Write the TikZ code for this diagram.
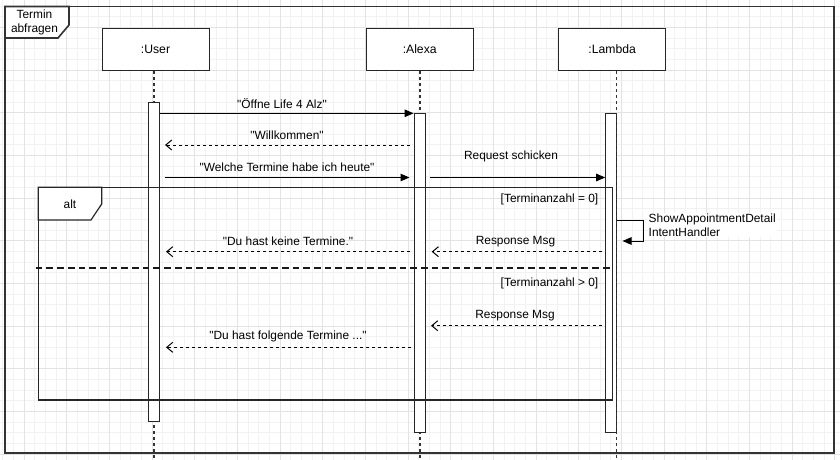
\documentclass[tikz,border=0pt]{standalone}
\usepackage{fontspec}
\setmainfont{Liberation Sans}[Ligatures=TeXOff]
\usetikzlibrary{arrows.meta,calc}
\tikzset{
  minorgrid/.style={draw=black!5,line width=0.8pt},
  majorgrid/.style={draw=black!11,line width=0.8pt},
  lbl/.style={font=\fontsize{11.9}{13.5}\selectfont,inner sep=0pt},
  head/.style={draw=black!85,fill=white,line width=1pt,minimum width=107pt,minimum height=42.4pt,inner sep=0pt,font=\fontsize{12.2}{14}\selectfont},
  actbar/.style={draw=black!85,fill=white,line width=1pt,minimum width=11pt,inner sep=0pt},
  lifeline/.style={draw=black!80,line width=1.1pt,dash pattern=on 3pt off 3pt},
  sync/.style={draw=black,line width=1pt,-{Triangle[length=9pt,width=7.5pt]}},
  reply/.style={draw=black,line width=1pt,dash pattern=on 3pt off 3pt,-{Straight Barb[length=6pt,width=10pt]}},
  framebox/.style={draw=black!80,line width=1.6pt},
  altbox/.style={draw=black!85,line width=1.2pt},
}
\begin{document}
\begin{tikzpicture}[x=1pt,y=-1pt]
\useasboundingbox (0,0) rectangle (840,460);
\fill[white] (0,0) rectangle (840,460);
% grid
\foreach \k in {0,...,78}{\pgfmathsetmacro\xx{2.667+10.667*\k}\draw[minorgrid] (\xx,0) -- (\xx,460);}
\foreach \k in {0,...,42}{\pgfmathsetmacro\yy{6+10.667*\k}\draw[minorgrid] (0,\yy) -- (840,\yy);}
\foreach \k in {2,6,...,78}{\pgfmathsetmacro\xx{2.667+10.667*\k}\draw[majorgrid] (\xx,0) -- (\xx,460);}
\foreach \k in {2,6,...,42}{\pgfmathsetmacro\yy{6+10.667*\k}\draw[majorgrid] (0,\yy) -- (840,\yy);}
% outer frame
\draw[framebox] (5,6.5) rectangle (834,452.7);
\draw[framebox,fill=white] (5,6.5) -- (69,6.5) -- (69,25) -- (58,38) -- (5,38) -- cycle;
\node[lbl,align=center] (title) at (34.5,22.5) {Termin\\abfragen};
% lifeline heads
\node[head] (user) at (155.5,49.5) {:User};
\node[head] (alexa) at (419.7,49.5) {:Alexa};
\node[head] (lambda) at (612.2,49.5) {:Lambda};
\coordinate (uend) at (154,460);
\coordinate (aend) at (420,460);
\coordinate (lend) at (616.7,460);
\draw[lifeline] (user.south -| uend) -- (uend);
\draw[lifeline] (alexa.south -| aend) -- (aend);
\draw[lifeline] (616.7,71) -- (lend);
% activation bars
\node[actbar,minimum height=319pt] (ubar) at (154,262.2) {};
\node[actbar,minimum height=319pt] (abar) at (419.6,272.8) {};
\node[actbar,minimum height=319pt] (lbar) at (611.2,272.8) {};
\draw[draw=black!80,line width=1.1pt,dash pattern=on 3pt off 3pt] (616.7,113.3) -- (616.7,432.3);
% alt frame
\draw[altbox] (38.3,187.3) rectangle (612.7,400);
\draw[altbox,fill=white] (38.3,187.3) -- (101.7,187.3) -- (101.7,204) -- (91,220) -- (38.3,220) -- cycle;
\node[lbl] (alt) at (70,204.5) {alt};
\draw[draw=black!90,line width=2pt,dash pattern=on 6.7pt off 4pt] (35.7,268.3) -- (612.7,268.3);
\node[lbl,anchor=east] (g1) at (598.5,199) {[Terminanzahl = 0]};
\node[lbl,anchor=east] (g2) at (598.5,283.5) {[Terminanzahl > 0]};
% messages
\coordinate (m1) at (0,113.3);
\draw[sync] (ubar.east |- m1) -- (abar.west |- m1);
\node[lbl] (t1) at (282,104) {"Öffne Life 4 Alz"};
\draw[reply] (409.5,145) -- (165,145);
\node[lbl] (t2) at (287,135) {"Willkommen"};
\draw[sync] (165,177.5) -- (409.5,177.5);
\node[lbl] (t3) at (287,167.3) {"Welche Termine habe ich heute"};
\draw[sync] (430,177.5) -- (lbar.west |- 0,177.5);
\node[lbl] (t4) at (511,156.5) {Request schicken};
% self message
\draw[draw=black,line width=1pt,-{Triangle[length=9pt,width=7.5pt]}] (lbar.east |- 0,220) -- (643.3,220) -- (643.3,241) -- (622.5,241);
\node[lbl,align=left,anchor=north west,fill=white,inner sep=1pt] (t5) at (647.5,213) {ShowAppointmentDetail\\IntentHandler};
% alt branch 1
\draw[reply] (410,251.7) -- (166,251.7);
\node[lbl] (t6) at (288,241.7) {"Du hast keine Termine."};
\draw[reply] (601.7,251.7) -- (431.7,251.7);
\node[lbl] (t7) at (515.5,241.7) {Response Msg};
% alt branch 2
\draw[reply] (601.7,325.7) -- (431,325.7);
\node[lbl] (t8) at (515,315.7) {Response Msg};
\draw[reply] (411,347.3) -- (166,347.3);
\node[lbl] (t9) at (288,336.7) {"Du hast folgende Termine ..."};
\end{tikzpicture}
\end{document}
